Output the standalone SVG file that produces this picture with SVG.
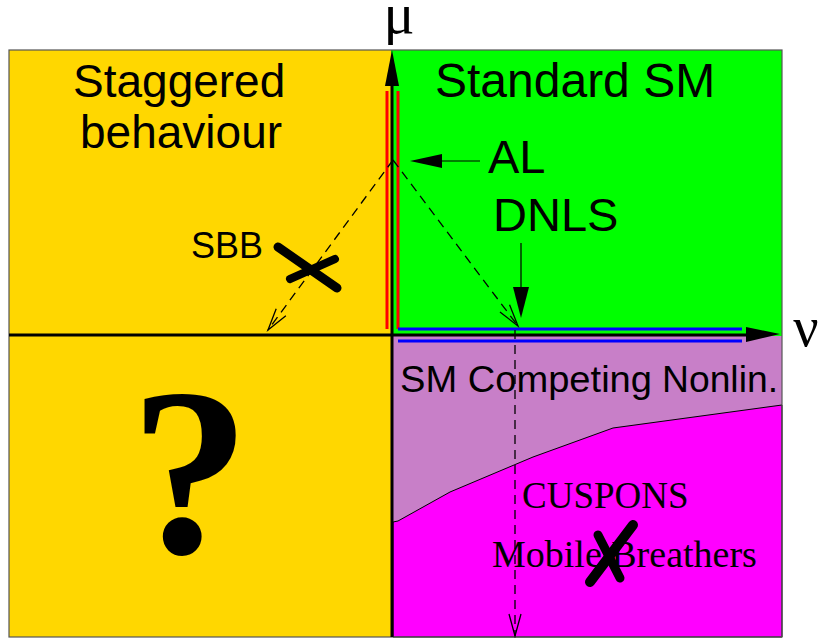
<svg xmlns="http://www.w3.org/2000/svg" width="819" height="638" viewBox="0 0 819 638">
<style>
.sans{font-family:"Liberation Sans",Arial,sans-serif;fill:#000}
.serif{font-family:"Liberation Serif","Times New Roman",serif;fill:#000}
.dash{fill:none;stroke:#000;stroke-width:1.3;stroke-dasharray:9 6}
.cross{fill:none;stroke:#000;stroke-linecap:round}
</style>
<defs>
<marker id="open" markerUnits="userSpaceOnUse" markerWidth="30" markerHeight="30" viewBox="-25 -10 30 20" refX="0" refY="0" orient="auto">
<path d="M-22,-6 L0,0 L-22,6" fill="none" stroke="#000" stroke-width="1.3"/>
</marker>
</defs>
<rect width="819" height="638" fill="#fff"/>
<g id="regions">
<rect id="staggered" x="9" y="50" width="382" height="587" fill="#FFD700"/>
<rect id="standard" x="391" y="50" width="391" height="286" fill="#00FF00"/>
<rect id="competing" x="391" y="336" width="391" height="301" fill="#C87FC8"/>
<polygon id="breathers" points="393,522 398,521 450,492 533,457 613,428 782,405 782,637 393,637" fill="#FF00FF" stroke="#000" stroke-width="1"/>
<rect x="9" y="50" width="773" height="587" fill="none" stroke="#555" stroke-width="1.2"/>
</g>
<g id="lines">
<line x1="387" y1="91" x2="387" y2="329" stroke="#FF0000" stroke-width="3"/>
<line x1="398" y1="91" x2="398" y2="329" stroke="#FF0000" stroke-width="3"/>
<line x1="398" y1="329" x2="742" y2="329" stroke="#0000FF" stroke-width="3"/>
<line x1="398" y1="341" x2="742" y2="341" stroke="#0000FF" stroke-width="3"/>
</g>
<g id="connectors">
<line x1="392" y1="637" x2="392" y2="80" stroke="#000" stroke-width="3"/>
<polygon points="392,50 385,86 399,86" fill="#000"/>
<line x1="9" y1="335" x2="752" y2="335" stroke="#000" stroke-width="3"/>
<polygon points="780,334 746,327 746,342" fill="#000"/>
<line x1="480" y1="161" x2="438" y2="161" stroke="#000" stroke-width="1.2"/>
<polygon points="410,161 442,154 442,168" fill="#000"/>
<line x1="521" y1="243" x2="521" y2="290" stroke="#000" stroke-width="1.2"/>
<polygon points="521,318 513,287 529,287" fill="#000"/>
<path class="dash" d="M393,160 L518,326" marker-end="url(#open)"/>
<path class="dash" d="M393,160 L268,330" marker-end="url(#open)"/>
<path class="dash" d="M515,330 L515,636" marker-end="url(#open)"/>
</g>
<g id="labels">
<text class="serif" x="399" y="33" font-size="58" text-anchor="middle">μ</text>
<text class="serif" x="806" y="346" font-size="56" text-anchor="middle">ν</text>
<text class="sans" x="73" y="97" font-size="46">Staggered</text>
<text class="sans" x="80" y="148" font-size="46">behaviour</text>
<text class="sans" x="435" y="97" font-size="48">Standard SM</text>
<text class="sans" x="488" y="173" font-size="47">AL</text>
<text class="sans" x="493" y="231" font-size="47">DNLS</text>
<text class="sans" x="191" y="258" font-size="36">SBB</text>
<text class="sans" x="400" y="392" font-size="36" textLength="252" lengthAdjust="spacingAndGlyphs">SM Competing</text>
<text class="sans" x="662" y="392" font-size="36" textLength="116" lengthAdjust="spacingAndGlyphs">Nonlin.</text>
<text class="serif" x="522" y="508" font-size="37">CUSPONS</text>
<text class="serif" x="492" y="567" font-size="38">Mobile Breathers</text>
<text class="serif" x="190" y="553" font-size="240" font-weight="bold" text-anchor="middle">?</text>
</g>
<g id="marks">
<path class="cross" d="M278,247 L337,288" stroke-width="9"/>
<path class="cross" d="M290,279 L335,259" stroke-width="8"/>
<path class="cross" d="M633,525 L590,582" stroke-width="10"/>
<path class="cross" d="M598,535 L620,578" stroke-width="9"/>
</g>
</svg>
